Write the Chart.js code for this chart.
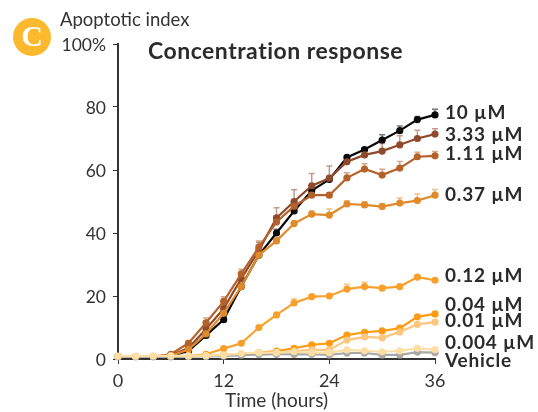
<!DOCTYPE html>
<html>
<head>
<meta charset="utf-8">
<style>
    html, body { margin: 0; padding: 0; background: #fff; }
    #wrap { position: relative; width: 538px; height: 412px; overflow: hidden; }
    canvas { display: block; }
</style>
<script src="https://cdn.jsdelivr.net/npm/chart.js@4/dist/chart.umd.min.js"></script>
</head>
<body>
<div id="wrap"><canvas id="grafico" width="538" height="412"></canvas></div>
<script>
// Horas
const hours = [0, 2, 4, 6, 8, 10, 12, 14, 16, 18, 20, 22, 24, 26, 28, 30, 32, 34, 36];
const yTicks = [0, 20, 40, 60, 80, 100];

// Índice apoptótico por concentração
const v10 = [0.8, 0.8, 0.8, 1, 2.5, 7.5, 12.5, 23, 33, 40, 47, 53.5, 57, 64, 66.5, 69.5, 72.5, 76, 77.5];
const v333 = [0.8, 0.8, 0.8, 1.2, 3.5, 9.5, 16, 25.5, 34.5, 44.8, 50, 55, 57.4, 62.6, 64.8, 66, 68, 70, 71.4];
const v111 = [0.8, 0.8, 0.8, 1.5, 5, 11.5, 18.3, 27, 35.5, 43.5, 48.5, 52, 52, 57.5, 60.3, 58.4, 60.6, 64.2, 64.5];
const v037 = [0.8, 0.8, 0.8, 1, 3, 8, 14.5, 23, 33, 37.5, 43, 46, 45.7, 49.2, 48.9, 48.4, 49.5, 50.3, 52];
const v012 = [0.8, 0.8, 0.8, 0.8, 1, 1.5, 3.3, 5, 10, 14, 17.8, 19.8, 20, 22.2, 23, 22.5, 23, 26, 25];
const v004 = [0.8, 0.8, 0.8, 0.8, 0.9, 1, 1.3, 1.5, 2, 2.5, 3.4, 4.5, 5, 7.6, 8.5, 8.9, 9.8, 13.4, 14.3];
const v001 = [0.8, 0.8, 0.8, 0.8, 0.9, 1, 1.2, 1.5, 1.8, 2, 2.5, 2.9, 2.9, 6, 7, 6.7, 8.6, 11, 11.7];
const v0004 = [0.9, 0.9, 1, 1, 1, 1.1, 1.2, 1.8, 2, 2, 2.3, 2, 2, 2.9, 2.6, 2.3, 2.6, 3.4, 3];
const vVeh = [0.7, 0.7, 0.7, 0.7, 0.8, 0.8, 0.9, 1.2, 1.4, 1.5, 1.5, 1.5, 1.3, 1.9, 1.9, 1.3, 1.3, 2.2, 2];

// Barras de erro (só para cima)
const e10 = [0, 0, 0, 0.3, 0.5, 0.8, 0.8, 1, 1, 1.2, 1.5, 1.5, 1, 0.6, 0.6, 1.7, 1.5, 1, 1.8];
const e333 = [0, 0, 0, 0.3, 0.8, 2, 2, 2, 2.5, 3.2, 3.7, 3.9, 3.9, 1.6, 2, 2.4, 2.9, 2.6, 1.7];
const e111 = [0, 0, 0, 0.3, 0.8, 1.5, 1.5, 1.5, 2, 2, 2, 1, 0.8, 1.6, 1.7, 1.8, 2.1, 1.4, 1.4];
const e037 = [0, 0, 0, 0.2, 0.5, 0.8, 0.8, 1, 1, 1, 1, 1, 1.9, 1, 1, 1, 1.6, 2.1, 1.8];
const e012 = [0, 0, 0, 0, 0.2, 0.3, 0.4, 0.4, 0.5, 0.6, 1.3, 0.6, 0.5, 1.5, 1.4, 0.6, 0.5, 0.6, 0.6];
const eZero = [0, 0, 0, 0, 0, 0, 0, 0, 0, 0, 0, 0, 0, 0, 0, 0, 0, 0, 0];

const seriesNames = ['10 µM', '3.33 µM', '1.11 µM', '0.37 µM', '0.12 µM', '0.04 µM', '0.01 µM', '0.004 µM', 'Vehicle'];
const labelTops = [113, 135, 154, 195, 276, 305, 321, 343, 361];

function serie(label, values, errs, color, order) {
    return {
        label, errs, order,
        data: values.map((v, i) => ({ x: hours[i], y: v })),
        borderColor: color,
        backgroundColor: color,
        borderWidth: 2.2,
        pointRadius: 3.6,
        pointBorderWidth: 0,
        tension: 0
    };
}

// Barras de erro, desenhadas antes das séries
const errorBars = {
    id: 'errorBars',
    beforeDatasetsDraw(chart) {
        const { ctx, scales: { x, y } } = chart;
        ctx.save();
        ctx.lineWidth = 1.5;
        chart.data.datasets.forEach(ds => {
            ctx.strokeStyle = ds.borderColor;
            ctx.globalAlpha = 0.55;
            ds.data.forEach((p, i) => {
                const e = ds.errs[i];
                if (!e) return;
                const px = x.getPixelForValue(p.x);
                const y0 = y.getPixelForValue(p.y);
                const y1 = y.getPixelForValue(p.y + e);
                ctx.beginPath();
                ctx.moveTo(px, y0);
                ctx.lineTo(px, y1);
                ctx.moveTo(px - 3, y1);
                ctx.lineTo(px + 3, y1);
                ctx.stroke();
            });
        });
        ctx.restore();
    }
};

// Textos soltos: selo, título, rótulos das séries
const textos = {
    id: 'textos',
    afterDraw(chart) {
        const { ctx } = chart;
        ctx.save();
        ctx.fillStyle = '#fdb92e';
        ctx.beginPath();
        ctx.arc(32, 37, 19, 0, Math.PI * 2);
        ctx.fill();
        ctx.fillStyle = '#fff';
        ctx.textAlign = 'center';
        ctx.textBaseline = 'middle';
        ctx.font = 'bold 30px "Liberation Serif"';
        ctx.fillText('C', 32, 38);

        ctx.textAlign = 'left';
        ctx.fillStyle = '#333';
        ctx.font = '18.5px Lato';
        ctx.fillText('Apoptotic index', 60, 20);

        ctx.fillStyle = '#2b2b2b';
        ctx.font = 'bold 23px Lato';
        ctx.letterSpacing = '0.5px';
        ctx.fillText('Concentration response', 148, 52);

        ctx.font = 'bold 19px Lato';
        ctx.letterSpacing = '0.8px';
        seriesNames.forEach((n, i) => ctx.fillText(n, 445, labelTops[i]));
        ctx.restore();
    }
};

new Chart(document.getElementById('grafico'), {
    type: 'line',
    data: {
        datasets: [
            serie(seriesNames[7], v0004, eZero, '#fddfa6', 0),
            serie(seriesNames[8], vVeh, eZero, '#a9a9a5', 1),
            serie(seriesNames[6], v001, eZero, '#fcc67e', 2),
            serie(seriesNames[5], v004, eZero, '#fd9b12', 3),
            serie(seriesNames[4], v012, e012, '#f9a02c', 4),
            serie(seriesNames[3], v037, e037, '#e08a2a', 5),
            serie(seriesNames[2], v111, e111, '#b5622a', 6),
            serie(seriesNames[1], v333, e333, '#8f4a2c', 7),
            serie(seriesNames[0], v10, e10, '#0a0a0a', 8)
        ]
    },
    options: {
        responsive: false,
        animation: false,
        clip: false,
        layout: { padding: { left: 58, top: 44, right: 103, bottom: 0 } },
        plugins: { legend: { display: false }, title: { display: false }, tooltip: { enabled: false } },
        scales: {
            x: {
                type: 'linear',
                min: 0,
                max: 36,
                afterBuildTicks: s => { s.ticks = [0, 12, 24, 36].map(v => ({ value: v })); },
                afterFit: s => { s.height = 53; },
                border: { color: '#333', width: 2 },
                grid: { drawOnChartArea: false, drawTicks: true, tickLength: 5, color: '#333' },
                ticks: { color: '#333', font: { family: 'Lato', size: 18 }, maxRotation: 0, padding: 6 },
                title: { display: true, text: 'Time (hours)', color: '#333', font: { family: 'Lato', size: 19 }, padding: { top: -3, bottom: 0 } }
            },
            y: {
                min: 0,
                max: 100,
                afterBuildTicks: s => { s.ticks = yTicks.map(v => ({ value: v })); },
                afterFit: s => { s.width = 60; },
                border: { color: '#333', width: 2 },
                grid: { drawOnChartArea: false, drawTicks: true, tickLength: 5, color: '#333' },
                ticks: {
                    color: '#333',
                    padding: 7,
                    labelOffset: 1,
                    font: { family: 'Lato', size: 17.5 },
                    callback: v => v === 100 ? '100%' : v
                }
            }
        }
    },
    plugins: [errorBars, textos]
});
</script>
</body>
</html>
